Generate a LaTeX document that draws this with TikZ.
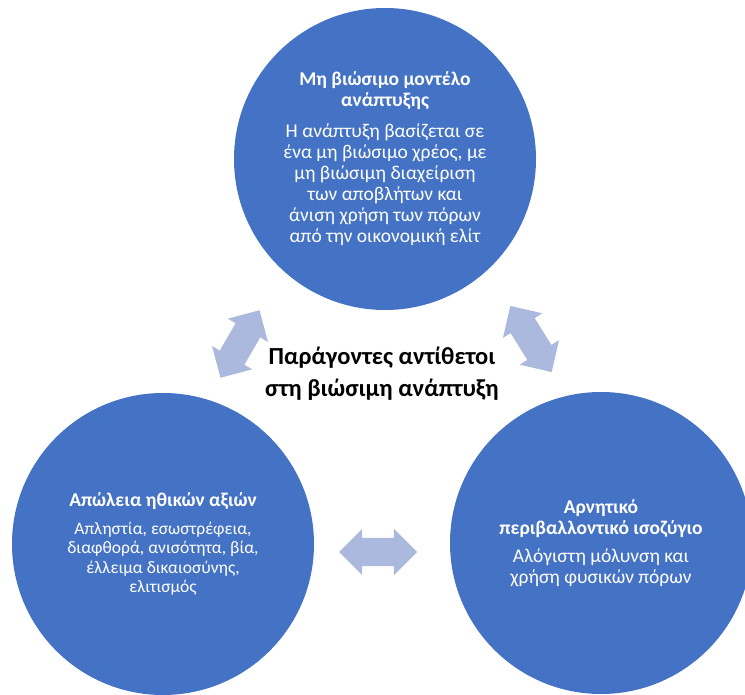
\documentclass[tikz,border=0pt]{standalone}
\usepackage{fontspec}
\setmainfont{Carlito}
\usepackage{tikz}
\usetikzlibrary{shapes.arrows}
\definecolor{bubblefill}{RGB}{68,114,196}
\definecolor{arrowfill}{RGB}{172,185,222}
\tikzstyle{bubble} = [circle, fill=bubblefill, minimum size=302pt, inner sep=0pt, text=white, align=center, font=\fontsize{19.5}{21}\selectfont]
\tikzstyle{twoway} = [double arrow, fill=arrowfill, minimum height=78pt, double arrow head extend=9pt, double arrow tip angle=90, inner sep=14pt]

\begin{document}
\begin{tikzpicture}[x=1pt,y=-1pt]
  \clip (0,0) rectangle (745,695);
  \node [bubble] (model) at (385,159) {\textbf{Μη βιώσιμο μοντέλο}\\\textbf{ανάπτυξης}\\[10pt]
    Η ανάπτυξη βασίζεται σε\\ένα μη βιώσιμο χρέος, με\\μη βιώσιμη διαχείριση\\των αποβλήτων και\\άνιση χρήση των πόρων\\από την οικονομική ελίτ};
  \node [bubble, font=\fontsize{17.5}{19.5}\selectfont] (ethics) at (163,544) {{\fontsize{19.5}{21}\selectfont\bfseries Απώλεια ηθικών αξιών}\\[8pt]
    Απληστία, εσωστρέφεια,\\διαφθορά, ανισότητα, βία,\\έλλειμα δικαιοσύνης,\\ελιτισμός};
  \node [bubble] (nature) at (601,543) {\textbf{Αρνητικό}\\\textbf{περιβαλλοντικό ισοζύγιο}\\[7pt]
    Αλόγιστη μόλυνση και\\χρήση φυσικών  πόρων};
  % arrows between the circles
  \node [twoway, rotate=60] (leftarrow) at (240,344) {};
  \node [twoway, rotate=-58] (rightarrow) at (531,339) {};
  \node [twoway] (bottomarrow) at (378,552) {};
  \node [font=\bfseries\fontsize{24.5}{32}\selectfont, align=center] (centre) at (382,374) {Παράγοντες αντίθετοι\\στη βιώσιμη ανάπτυξη};
\end{tikzpicture}
\end{document}
